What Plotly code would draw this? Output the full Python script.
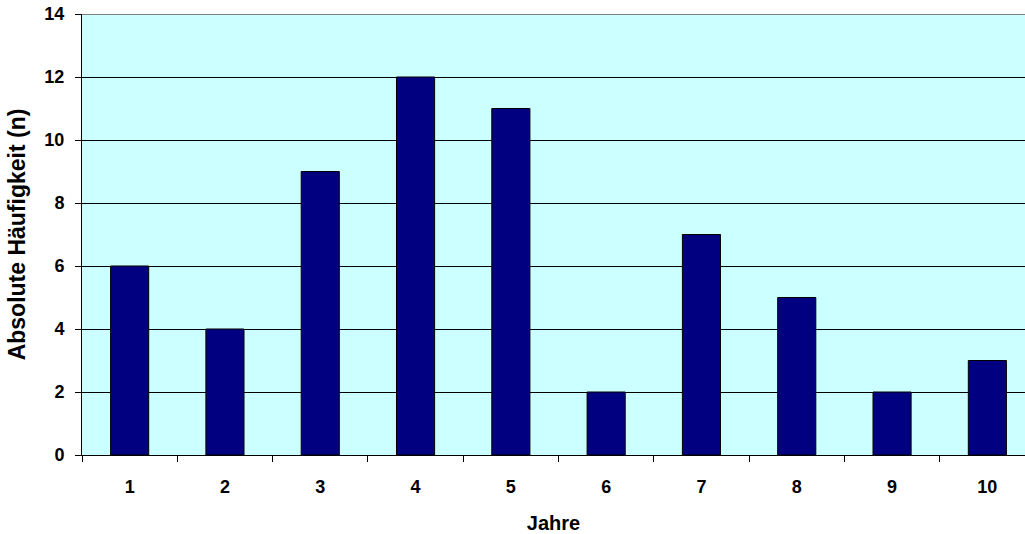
import plotly.graph_objects as go

# Absolute frequencies per year
years = ["1", "2", "3", "4", "5", "6", "7", "8", "9", "10"]
counts = [6, 4, 9, 12, 11, 2, 7, 5, 2, 3]
y_ticks = [0, 2, 4, 6, 8, 10, 12, 14]

font_family = "Liberation Sans, Arial, sans-serif"
tick_font = dict(family=font_family, size=18, color="black", weight="bold")
x_title_font = dict(family=font_family, size=20, color="black", weight="bold")
y_title_font = dict(family=font_family, size=23, color="black", weight="bold")

fig = go.Figure(
    go.Bar(
        x=years,
        y=counts,
        marker=dict(color="#000080", line=dict(color="#000000", width=1)),
    )
)

fig.update_layout(
    width=1025,
    height=534,
    margin=dict(l=82, r=0, t=14, b=79),
    paper_bgcolor="white",
    plot_bgcolor="#CCFFFF",
    bargap=0.6,
    showlegend=False,
    font=dict(family=font_family, size=16, color="black"),
)

fig.update_xaxes(
    type="category",
    range=[-0.5, 9.395],
    tickson="boundaries",
    ticks="outside",
    ticklen=6,
    tickcolor="black",
    showline=True,
    linecolor="black",
    linewidth=1,
    showgrid=False,
    tickfont=tick_font,
    ticklabelstandoff=15,
    title=dict(text="Jahre", font=x_title_font, standoff=20),
)

fig.update_yaxes(
    range=[0, 14],
    tickvals=y_ticks,
    ticks="outside",
    ticklen=6,
    tickcolor="black",
    showline=True,
    linecolor="black",
    linewidth=1,
    showgrid=True,
    gridcolor="black",
    gridwidth=1,
    zeroline=False,
    tickfont=tick_font,
    ticklabelstandoff=7,
    title=dict(text="Absolute Häufigkeit (n)", font=y_title_font, standoff=12),
)

# Gray top border of the plot area
fig.add_shape(
    type="line", xref="paper", yref="y", x0=0, x1=1, y0=14, y1=14,
    line=dict(color="#808080", width=2),
)

fig.write_html("out.html")
